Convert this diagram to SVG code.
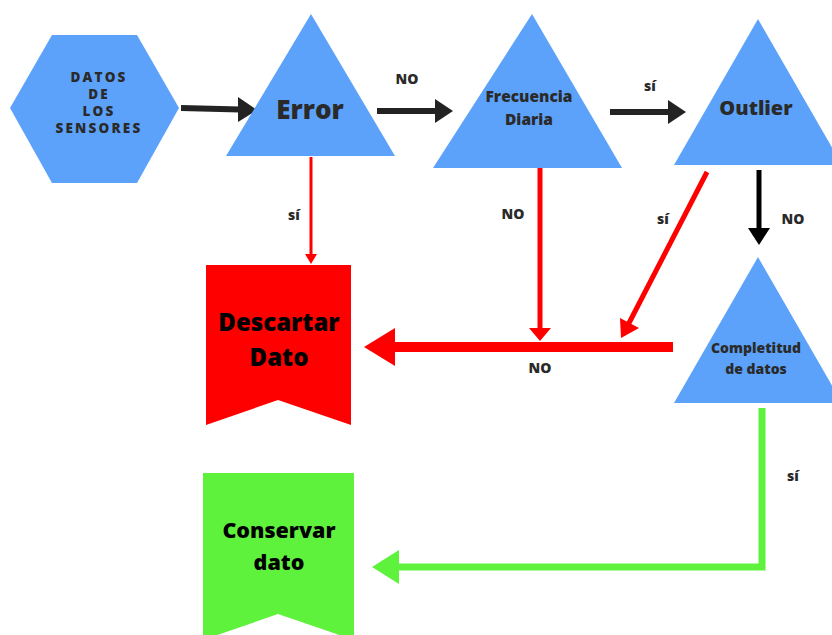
<svg xmlns="http://www.w3.org/2000/svg" width="832" height="635" viewBox="0 0 832 635">
<style>
.blue{fill:#5ca2fb}
.t{font-family:"Open Sans","Liberation Sans",sans-serif;font-weight:800;fill:#2a2a2a;text-anchor:middle}
.k{font-family:"Open Sans","Liberation Sans",sans-serif;font-weight:800;fill:#000;text-anchor:middle}
.lbl{font-family:"Open Sans","Liberation Sans",sans-serif;font-weight:800;fill:#2a2a2a;text-anchor:middle;font-size:14px}
.bk{stroke:#232323;fill:none}
.rd{stroke:#ff0000;fill:none}
.gr{stroke:#5ff23d;fill:none}
</style>
<rect width="832" height="635" fill="#ffffff"/>
<g id="connectors">
  <line class="bk" x1="181" y1="108" x2="240" y2="109.5" stroke-width="6"/>
  <polygon fill="#232323" points="238,97 257,110 238,122"/>
  <line class="bk" x1="377" y1="111" x2="437" y2="111" stroke-width="6"/>
  <polygon fill="#232323" points="435,99 453,111 435,123"/>
  <line class="bk" x1="610" y1="112" x2="670" y2="112" stroke-width="6"/>
  <polygon fill="#232323" points="668,100 686,112 668,124"/>
  <line stroke="#000" x1="759" y1="170" x2="759" y2="230" stroke-width="5"/>
  <polygon fill="#000" points="748,228 759,245 770,228"/>
  <line class="rd" x1="311" y1="157" x2="311" y2="256" stroke-width="3"/>
  <polygon fill="#ff0000" points="305,254 311,264 317,254"/>
  <line class="rd" x1="540" y1="166" x2="540" y2="330" stroke-width="5"/>
  <polygon fill="#ff0000" points="529,328 540,341 551,328"/>
  <line class="rd" x1="707" y1="172" x2="628" y2="325" stroke-width="5"/>
  <polygon fill="#ff0000" points="620,318 621,338 639,328"/>
  <line class="rd" x1="673" y1="347" x2="393" y2="347" stroke-width="10"/>
  <polygon fill="#ff0000" points="395,328 364,347 395,366"/>
  <polyline class="gr" points="762,408 762,567 398,567" stroke-width="7"/>
  <polygon fill="#5ff23d" points="399,550 372,567 399,584"/>
  <text class="lbl" x="407" y="84">NO</text>
  <text class="lbl" x="650" y="91">sí</text>
  <text class="lbl" x="294" y="220">sí</text>
  <text class="lbl" x="513" y="219">NO</text>
  <text class="lbl" x="663" y="224">sí</text>
  <text class="lbl" x="793" y="224">NO</text>
  <text class="lbl" x="540" y="373">NO</text>
  <text class="lbl" x="793" y="481">sí</text>
</g>
<g id="datos-sensores">
  <polygon class="blue" points="52,35 137,35 179,108 137,183 52,183 10,108"/>
  <text class="t" font-size="13.5" letter-spacing="2.2" x="99" y="82">DATOS</text>
  <text class="t" font-size="13.5" letter-spacing="2.2" x="99" y="99">DE</text>
  <text class="t" font-size="13.5" letter-spacing="2.2" x="99" y="116">LOS</text>
  <text class="t" font-size="13.5" letter-spacing="2.2" x="99" y="133">SENSORES</text>
</g>
<g id="error">
  <polygon class="blue" points="311,14 395,156 226,156"/>
  <text class="t" font-size="26" x="310" y="119">Error</text>
</g>
<g id="frecuencia">
  <polygon class="blue" points="532,14 622,168 433,168"/>
  <text class="t" font-size="15.5" x="529" y="102">Frecuencia</text>
  <text class="t" font-size="15.5" x="529" y="125">Diaria</text>
</g>
<g id="outlier">
  <polygon class="blue" points="758,19 842,165 674,165"/>
  <text class="t" font-size="20" x="756" y="115">Outlier</text>
</g>
<g id="completitud">
  <polygon class="blue" points="758,257 842,403 674,403"/>
  <text class="t" font-size="14" x="756" y="353">Completitud</text>
  <text class="t" font-size="14" x="756" y="374">de datos</text>
</g>
<g id="descartar">
  <polygon fill="#ff0000" points="206,265 351,265 351,425 278,400 206,425"/>
  <text class="k" font-size="24" x="279" y="331">Descartar</text>
  <text class="k" font-size="24" x="279" y="366">Dato</text>
</g>
<g id="conservar">
  <polygon fill="#5ff23d" points="203,473 354,473 354,640 278,614 203,640"/>
  <text class="k" font-size="21.5" x="279" y="538">Conservar</text>
  <text class="k" font-size="21.5" x="279" y="570">dato</text>
</g>
</svg>
